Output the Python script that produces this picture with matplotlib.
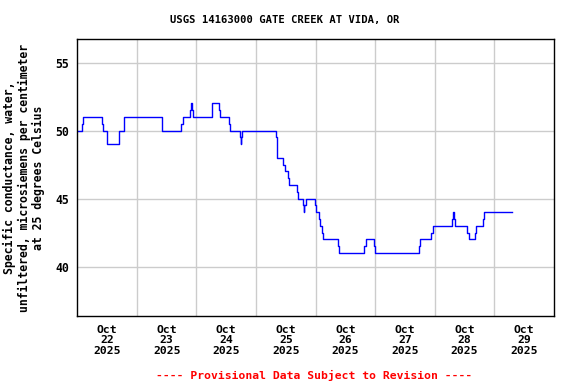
import numpy as np
import pandas as pd
import matplotlib
matplotlib.use("Agg")
import matplotlib.pyplot as plt

# step breakpoints (time, uS/cm)
times = ["2025-10-22 00:00", "2025-10-22 01:53", "2025-10-22 02:18", "2025-10-22 09:57",
         "2025-10-22 10:21", "2025-10-22 12:05", "2025-10-22 16:40", "2025-10-22 18:48",
         "2025-10-23 10:06", "2025-10-23 17:45", "2025-10-23 18:34", "2025-10-23 21:23",
         "2025-10-23 21:47", "2025-10-23 22:11", "2025-10-23 22:35", "2025-10-24 06:07",
         "2025-10-24 06:22", "2025-10-24 09:11", "2025-10-24 09:28", "2025-10-24 13:13",
         "2025-10-24 13:37", "2025-10-24 17:38", "2025-10-24 17:48", "2025-10-24 18:02",
         "2025-10-24 18:19", "2025-10-25 07:53", "2025-10-25 08:18", "2025-10-25 10:57",
         "2025-10-25 11:31", "2025-10-25 12:58", "2025-10-25 13:22", "2025-10-25 16:35",
         "2025-10-25 16:59", "2025-10-25 19:01", "2025-10-25 19:10", "2025-10-25 19:29",
         "2025-10-25 19:58", "2025-10-25 23:43", "2025-10-26 00:07", "2025-10-26 01:27",
         "2025-10-26 01:44", "2025-10-26 02:25", "2025-10-26 03:04", "2025-10-26 09:06",
         "2025-10-26 09:30", "2025-10-26 19:34", "2025-10-26 20:08", "2025-10-26 23:29",
         "2025-10-26 23:53", "2025-10-27 17:43", "2025-10-27 18:07", "2025-10-27 22:33",
         "2025-10-27 23:07", "2025-10-28 06:53", "2025-10-28 07:10", "2025-10-28 07:34",
         "2025-10-28 08:05", "2025-10-28 13:03", "2025-10-28 13:37", "2025-10-28 16:09",
         "2025-10-28 16:33", "2025-10-28 19:15", "2025-10-28 19:39", "2025-10-29 06:55"]
values = [50, 50.5, 51, 50.5,
          50, 49, 50, 51,
          50, 50.5, 51, 51.5,
          52, 51.5, 51, 51.5,
          52, 51.5, 51, 50.5,
          50, 49.5, 49, 49.5,
          50, 49.5, 48, 47.5,
          47, 46.5, 46, 45.5,
          45, 44.5, 44, 44.5,
          45, 44.5, 44, 43.5,
          43, 42.5, 42, 41.5,
          41, 41.5, 42, 41.5,
          41, 41.5, 42, 42.5,
          43, 43.5, 44, 43.5,
          43, 42.5, 42, 42.5,
          43, 43.5, 44, 44]

days = ["Oct\n22\n2025", "Oct\n23\n2025", "Oct\n24\n2025", "Oct\n25\n2025",
        "Oct\n26\n2025", "Oct\n27\n2025", "Oct\n28\n2025", "Oct\n29\n2025"]
yticks = [40, 45, 50, 55]

t = pd.to_datetime(times)
start = pd.Timestamp("2025-10-22")
end = pd.Timestamp("2025-10-30")
midnights = pd.date_range("2025-10-23", "2025-10-29", freq="D")
noons = pd.date_range("2025-10-22 12:00", periods=len(days), freq="D")

plt.rcParams['font.family'] = ['DejaVu Sans Mono']
plt.rcParams['font.weight'] = 'bold'

fig = plt.figure(figsize=(5.76, 3.84), dpi=100)
ax = fig.add_axes([0.1342, 0.1771, 0.8276, 0.7206])

ax.step(t, values, where='post', color='#0000ff', linewidth=1)

ax.set_xlim(start, end)
ax.set_ylim(36.37, 56.72)
ax.set_yticks(yticks)
ax.set_xticks(midnights)
ax.set_xticklabels([])
ax.set_xticks(noons, minor=True)
ax.set_xticklabels(days, minor=True, fontsize=8.2, fontweight='bold', linespacing=1.05)
ax.tick_params(axis='x', which='both', length=0, pad=6.5)
ax.tick_params(axis='y', length=0, pad=6, labelsize=8.3)
for lab in ax.get_yticklabels():
    lab.set_fontweight('bold')

ax.grid(True, which='major', color='#cccccc', linewidth=1)
ax.set_axisbelow(True)
for s in ax.spines.values():
    s.set_linewidth(1)
    s.set_color('black')

fig.text(0.495, 1 - 20 / 384, "USGS 14163000 GATE CREEK AT VIDA, OR",
         ha='center', va='center', fontsize=7.6, fontweight='bold')
fig.text(24 / 576, 1 - 178 / 384,
         "Specific conductance, water,\nunfiltered, microsiemens per centimeter\nat 25 degrees Celsius",
         rotation=90, ha='center', va='center', fontsize=8.3, fontweight='bold', linespacing=1.1)
fig.text(314 / 576, 1 - 375 / 384, "---- Provisional Data Subject to Revision ----",
         ha='center', va='center', fontsize=8.2, fontweight='bold', color='red')

fig.savefig("out.png", dpi=100)
